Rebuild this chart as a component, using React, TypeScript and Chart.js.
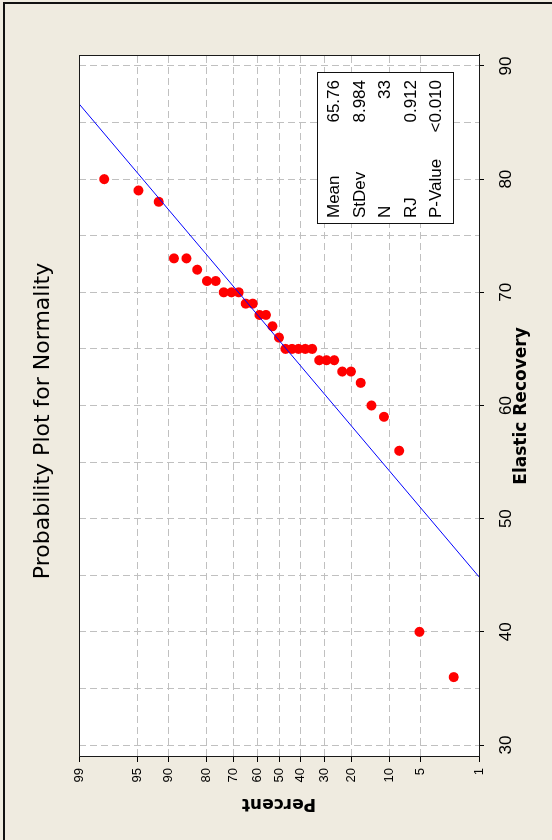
import React, { useEffect, useRef } from 'react';
import { Chart, registerables } from 'chart.js';

Chart.register(...registerables);

// ---------- data ----------
const chartTitle = 'Probability Plot for Normality';
const xAxisTitle = 'Elastic Recovery';
const yAxisTitle = 'Percent';

// sorted observations
const elasticRecovery = [
  36, 40, 56, 59, 60, 62, 63, 63, 64, 64, 64, 65, 65, 65, 65, 65, 66,
  67, 68, 68, 69, 69, 70, 70, 70, 71, 71, 72, 73, 73, 78, 79, 80,
];
// plotted percent (median rank) for each observation
const percentRank = [
  2.1, 5.1, 8.1, 11.1, 14.1, 17.1, 20.1, 23.1, 26.0, 29.0, 32.0, 35.0, 38.0,
  41.0, 44.0, 47.0, 50.0, 53.0, 56.0, 59.0, 62.0, 65.0, 68.0, 71.0, 74.0,
  76.9, 79.9, 82.9, 85.9, 88.9, 91.9, 94.9, 97.9,
];
// fitted normal line end points
const fitPercents = [1, 99];
const fitValues = [44.86, 86.66];

const percentTicks = [1, 5, 10, 20, 30, 40, 50, 60, 70, 80, 90, 95, 99];
const recoveryTicks = [30, 35, 40, 45, 50, 55, 60, 65, 70, 75, 80, 85, 90];
const recoveryLabelled = [30, 40, 50, 60, 70, 80, 90];
const recoveryMin = 28.94;
const recoveryMax = 90.97;

const statLabels = ['Mean', 'StDev', 'N', 'RJ', 'P-Value'];
const statValues = ['65.76', '8.984', '33', '0.912', '<0.010'];

// ---------- helpers ----------
function normInv(p: number): number {
  const a = [-3.969683028665376e1, 2.209460984245205e2, -2.759285104469687e2, 1.38357751867269e2, -3.066479806614716e1, 2.506628277459239];
  const b = [-5.447609879822406e1, 1.615858368580409e2, -1.556989798598866e2, 6.680131188771972e1, -1.328068155288572e1];
  const c = [-7.784894002430293e-3, -3.223964580411365e-1, -2.400758277161838, -2.549732539343734, 4.374664141464968, 2.938163982698783];
  const d = [7.784695709041462e-3, 3.224671290700398e-1, 2.445134137142996, 3.754408661907416];
  const pl = 0.02425;
  const ph = 1 - pl;
  if (p < pl) {
    const q = Math.sqrt(-2 * Math.log(p));
    return (((((c[0] * q + c[1]) * q + c[2]) * q + c[3]) * q + c[4]) * q + c[5]) /
      ((((d[0] * q + d[1]) * q + d[2]) * q + d[3]) * q + 1);
  }
  if (p <= ph) {
    const q = p - 0.5;
    const r = q * q;
    return ((((((a[0] * r + a[1]) * r + a[2]) * r + a[3]) * r + a[4]) * r + a[5]) * q) /
      (((((b[0] * r + b[1]) * r + b[2]) * r + b[3]) * r + b[4]) * r + 1);
  }
  const q = Math.sqrt(-2 * Math.log(1 - p));
  return -(((((c[0] * q + c[1]) * q + c[2]) * q + c[3]) * q + c[4]) * q + c[5]) /
    ((((d[0] * q + d[1]) * q + d[2]) * q + d[3]) * q + 1);
}
const zOf = (pct: number) => normInv(pct / 100);

const BEIGE = '#EFEBE0';
const GRID = '#c0c0c0';

const decorPlugin = {
  id: 'decor',
  beforeDraw(chart: any) {
    const { ctx, chartArea: ca, width, height } = chart;
    ctx.save();
    ctx.fillStyle = BEIGE;
    ctx.fillRect(0, 0, width, height);
    ctx.fillStyle = '#ffffff';
    ctx.fillRect(ca.left, ca.top, ca.right - ca.left, ca.bottom - ca.top);
    ctx.restore();
  },
  afterDraw(chart: any) {
    const { ctx, chartArea: ca } = chart;
    ctx.save();
    // plot frame
    ctx.strokeStyle = '#1a1a1a';
    ctx.lineWidth = 1;
    ctx.strokeRect(ca.left + 0.5, ca.top + 0.5, ca.right - ca.left - 1, ca.bottom - ca.top);
    // outer graph frame
    ctx.fillStyle = '#111111';
    ctx.fillRect(0, 3, 838, 2);
    ctx.fillRect(836, 3, 2, 552);
    // title
    ctx.fillStyle = '#000';
    ctx.font = '22px "DejaVu Sans"';
    ctx.textAlign = 'center';
    ctx.textBaseline = 'alphabetic';
    ctx.fillText(chartTitle, 419, 49);
    // stats box
    const bx = 616, by = 317, bw = 152, bh = 137;
    ctx.fillStyle = '#ffffff';
    ctx.fillRect(bx, by, bw, bh);
    ctx.strokeStyle = '#111';
    ctx.strokeRect(bx + 0.5, by + 0.5, bw - 1, bh - 1);
    ctx.fillStyle = '#000';
    ctx.font = '17px "Liberation Sans"';
    statLabels.forEach((lab, i) => {
      const y = 339 + i * 25.6;
      ctx.textAlign = 'left';
      ctx.fillText(lab, 622, y);
      ctx.textAlign = 'right';
      ctx.fillText(statValues[i], 760, y);
    });
    ctx.restore();
  },
};

export default function App() {
  const ref = useRef<HTMLCanvasElement>(null);
  useEffect(() => {
    const points = elasticRecovery.map((v, i) => ({ x: v, y: zOf(percentRank[i]) }));
    const fit = fitValues.map((v, i) => ({ x: v, y: zOf(fitPercents[i]) }));
    const chart = new Chart(ref.current as HTMLCanvasElement, {
      type: 'scatter',
      data: {
        datasets: [
          {
            label: 'Elastic Recovery',
            data: points,
            backgroundColor: '#ff0000',
            borderColor: '#ff0000',
            pointRadius: 5,
            borderWidth: 0,
            order: 2,
          },
          {
            label: 'Fit',
            data: fit,
            showLine: true,
            borderColor: '#0000ff',
            backgroundColor: '#0000ff',
            borderWidth: 1,
            pointRadius: 0,
            order: 1,
          },
        ],
      },
      options: {
        responsive: false,
        animation: false,
        devicePixelRatio: 1,
        layout: { padding: { top: 79, right: 55, left: 0, bottom: 0 } },
        plugins: {
          legend: { display: false },
          tooltip: { enabled: false },
          title: { display: false },
        },
        scales: {
          x: {
            type: 'linear',
            position: 'bottom',
            min: recoveryMin,
            max: recoveryMax,
            afterBuildTicks: (s: any) => {
              s.ticks = recoveryTicks.map((v) => ({ value: v }));
            },
            afterFit: (s: any) => {
              s.height = 73;
            },
            ticks: {
              autoSkip: false,
              maxRotation: 0,
              minRotation: 0,
              padding: 12,
              color: '#000',
              font: { family: 'Liberation Sans', size: 17 },
              callback: (v: any) => (recoveryLabelled.includes(Number(v)) ? String(v) : ''),
            },
            grid: {
              color: GRID,
              lineWidth: 1,
              tickLength: 5,
              tickWidth: 1,
              tickColor: (ctx: any) =>
                ctx.tick && recoveryLabelled.includes(ctx.tick.value) ? '#000' : 'rgba(0,0,0,0)',
            },
            border: { display: true, color: '#000', width: 1, dash: [7, 4] },
            title: {
              display: true,
              text: xAxisTitle,
              color: '#000',
              font: { family: 'DejaVu Sans', size: 17, weight: 'bold' },
              padding: { top: 0, bottom: 20 },
            },
          },
          y: {
            type: 'linear',
            position: 'left',
            min: zOf(1),
            max: zOf(99),
            afterBuildTicks: (s: any) => {
              s.ticks = percentTicks.map((p) => ({ value: zOf(p) }));
            },
            afterFit: (s: any) => {
              s.width = 83;
            },
            ticks: {
              autoSkip: false,
              padding: 6,
              color: '#000',
              font: { family: 'Liberation Sans', size: 13 },
              callback: (_v: any, i: number) => String(percentTicks[i]),
            },
            grid: {
              color: GRID,
              lineWidth: 1,
              tickLength: 5,
              tickWidth: 1,
              tickColor: '#000',
            },
            border: { display: true, color: '#000', width: 1, dash: [7, 4] },
            title: {
              display: true,
              text: yAxisTitle,
              color: '#000',
              font: { family: 'DejaVu Sans', size: 17, weight: 'bold' },
              padding: { top: 26, bottom: 0 },
            },
          },
        },
      },
      plugins: [decorPlugin],
    } as any);
    return () => chart.destroy();
  }, []);

  return (
    <div
      style={{
        position: 'absolute',
        left: 0,
        top: 0,
        width: 552,
        height: 840,
        overflow: 'hidden',
        background: BEIGE,
      }}
    >
      <div
        style={{
          position: 'absolute',
          left: 0,
          top: 0,
          width: 840,
          height: 552,
          transformOrigin: '0 0',
          transform: 'translate(0px, 840px) rotate(-90deg)',
        }}
      >
        <canvas ref={ref} width={840} height={552} style={{ display: 'block', width: 840, height: 552 }} />
      </div>
    </div>
  );
}
